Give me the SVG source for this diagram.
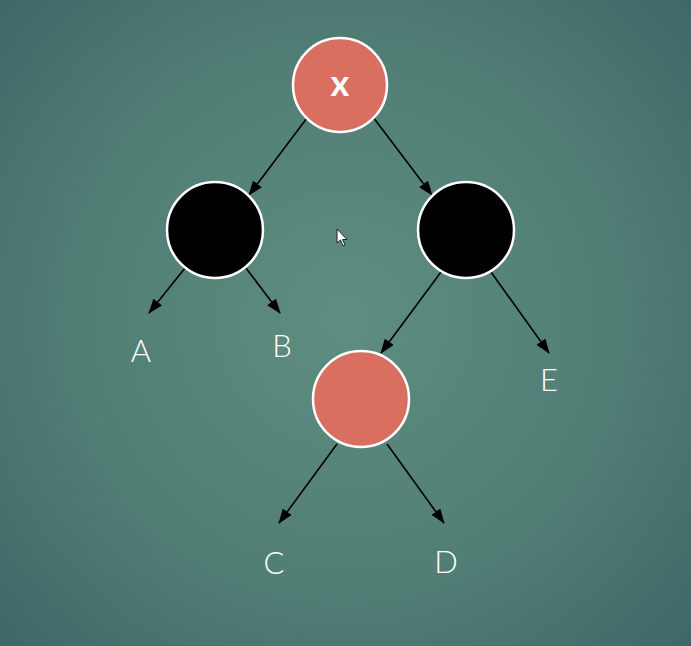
<svg xmlns="http://www.w3.org/2000/svg" width="691" height="646" viewBox="0 0 691 646">
  <defs>
    <radialGradient id="bg" cx="345" cy="320" r="480" gradientUnits="userSpaceOnUse">
      <stop offset="0" stop-color="#5e8d81"/>
      <stop offset="0.55" stop-color="#517e75"/>
      <stop offset="1" stop-color="#3f6667"/>
    </radialGradient>
    <marker id="head" viewBox="0 0 15 11" refX="14" refY="5.5" markerWidth="15" markerHeight="11" markerUnits="userSpaceOnUse" orient="auto">
      <path d="M0,0 L15,5.5 L0,11 Z" fill="#000"/>
    </marker>
  </defs>
  <style>
    .edge { stroke: #000; stroke-width: 1.6; fill: none; marker-end: url(#head); }
    .node { stroke: #fff; stroke-width: 2.5; }
    .red { fill: #d86f61; }
    .black { fill: #000; }
    .leaf { fill: #fff; font-family: Lato, "Liberation Sans", sans-serif; font-weight: 300; font-size: 31px; text-anchor: middle; }
    .key { fill: #fff; font-family: Lato, "Liberation Sans", sans-serif; font-weight: 700; font-size: 36px; text-anchor: middle; }
  </style>

  <rect width="691" height="646" fill="url(#bg)"/>

  <!-- connectors -->
  <g id="edges">
    <line class="edge" x1="307" y1="118" x2="249" y2="195"/>
    <line class="edge" x1="373" y1="117" x2="432" y2="195"/>
    <line class="edge" x1="185" y1="268" x2="149" y2="313"/>
    <line class="edge" x1="246" y1="268" x2="280" y2="313"/>
    <line class="edge" x1="441" y1="272" x2="381" y2="353"/>
    <line class="edge" x1="491" y1="272" x2="549" y2="353"/>
    <line class="edge" x1="337" y1="444" x2="279" y2="523"/>
    <line class="edge" x1="387" y1="444" x2="444" y2="523"/>
  </g>

  <!-- tree nodes -->
  <g id="node-x">
    <circle class="node red" cx="340" cy="85" r="47"/>
    <text class="key" x="340" y="96">x</text>
  </g>
  <g id="node-left">
    <circle class="node black" cx="215" cy="230" r="48"/>
  </g>
  <g id="node-right">
    <circle class="node black" cx="466" cy="230" r="48"/>
  </g>
  <g id="node-mid">
    <circle class="node red" cx="361" cy="399" r="48"/>
  </g>

  <!-- subtree labels -->
  <g id="leaf-A"><text class="leaf" x="141" y="362">A</text></g>
  <g id="leaf-B"><text class="leaf" x="282" y="357">B</text></g>
  <g id="leaf-E"><text class="leaf" x="549" y="391">E</text></g>
  <g id="leaf-C"><text class="leaf" x="274" y="574">C</text></g>
  <g id="leaf-D"><text class="leaf" x="446" y="573">D</text></g>

  <!-- mouse pointer -->
  <path d="M337,229 L337,243 L340.5,240 L343,246 L345,245 L342.5,239.5 L347,239.5 Z" fill="#fff" stroke="#222" stroke-width="1" stroke-linejoin="round"/>
</svg>
